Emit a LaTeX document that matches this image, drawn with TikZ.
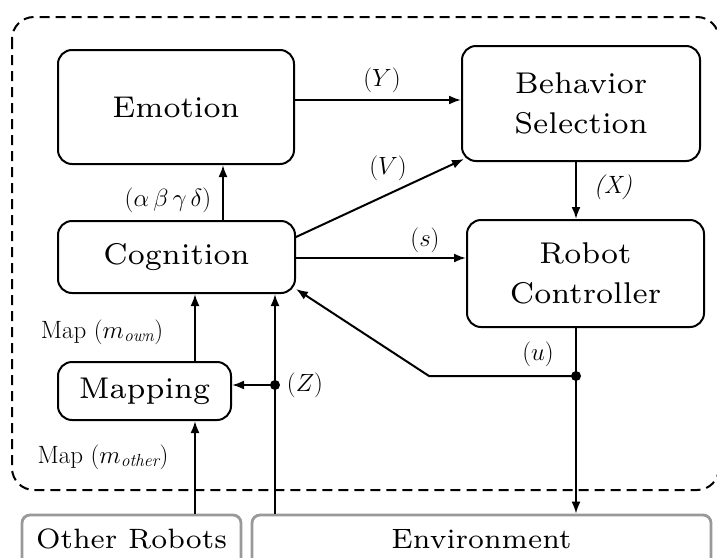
\documentclass[tikz,border=0pt]{standalone}
\usepackage{fontspec}
\newfontfamily\boxf{lmroman7-regular.otf}
\usetikzlibrary{arrows.meta}
\begin{document}
\begin{tikzpicture}[x=1pt,y=-1pt,
  box/.style={draw, line width=2pt, rounded corners=14pt, align=center, font=\boxf\fontsize{30}{40}\selectfont, inner sep=0pt},
  env/.style={draw=black!40, line width=2.8pt, rounded corners=8pt, inner sep=0pt},
  envt/.style={font=\boxf\fontsize{28}{36}\selectfont, inner sep=0pt},
  lab/.style={font=\fontsize{25}{30}\selectfont, inner sep=0pt},
  arr/.style={line width=2pt, -{Latex[length=12pt,width=9pt]}},
  ln/.style={line width=2pt},
  dot/.style={circle, fill=black, inner sep=0pt, minimum size=10pt}]
\useasboundingbox (0,0) rectangle (717,557);
\draw[line width=2pt, dash pattern=on 10pt off 6pt, rounded corners=22pt] (12,17) rectangle (719,490);
\node[box, minimum width=236pt, minimum height=114pt] (emo) at (176,107) {Emotion};
\node[box, minimum width=237pt, minimum height=72pt] (cog) at (176.5,257) {Cognition};
\node[box, minimum width=173pt, minimum height=58pt] (map) at (144.5,391) {Mapping};
\node[box, minimum width=238pt, minimum height=115pt] (beh) at (581,103.5) {Behavior\\Selection};
\node[box, minimum width=237pt, minimum height=107pt] (rob) at (585.5,273.5) {Robot\\Controller};
\node[env, minimum width=219pt, minimum height=60pt] (oth) at (131.5,545) {};
\node[env, minimum width=459pt, minimum height=60pt] (envi) at (481.5,545) {};
\node[envt] (othtxt) at (131.5,539) {Other Robots};
\node[envt] (envtxt) at (481.5,539) {Environment};
\node[dot] (d1) at (576,376) {};
\node[dot] (d2) at (275,385) {};
\coordinate (bend) at (429,376);
% arrows
\draw[arr] (emo.east |- 0,100) -- (beh.west |- 0,100);
\draw[arr] (cog.north -| 223,0) -- (emo.south -| 223,0);
\draw[arr] (cog.east |- 0,237) -- (464,159);
\draw[arr] (cog.east |- 0,258) -- (rob.west |- 0,258);
\draw[arr] (beh.south -| 576,0) -- (rob.north -| 576,0);
\draw[ln] (rob.south -| 576,0) -- (d1.center);
\draw[arr] (d1.center) -- (envi.north -| 576,0);
\draw[arr] (d1.center) -- (bend) -- (296,289);
\draw[arr] (envi.north -| 275,0) -- (cog.south -| 275,0);
\draw[arr] (d2.center) -- (map.east |- d2);
\draw[arr] (map.north -| 195,0) -- (cog.south -| 195,0);
\draw[arr] (oth.north -| 195,0) -- (map.south -| 195,0);
% labels
\node[lab] at (382,80) {$(Y)$};
\node[lab] at (388,168) {$(V)$};
\node[lab] at (425,240) {$(s)$};
\node[lab] at (613,187) {\textit{(X)}};
\node[lab] at (538,354) {$(u)$};
\node[lab] at (305,385) {$(Z)$};
\node[lab] at (168,200) {$(\alpha\,\beta\,\gamma\,\delta)$};
\node[lab] at (102,332) {Map $(m_{\mathit{own}})$};
\node[lab] at (103,457) {Map $(m_{\mathit{other}})$};
\end{tikzpicture}
\end{document}
